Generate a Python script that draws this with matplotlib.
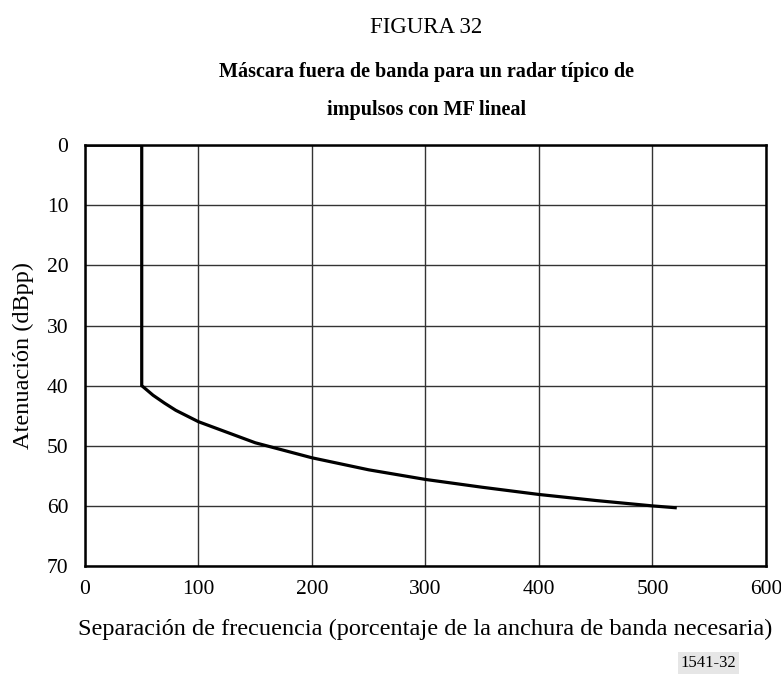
import matplotlib
matplotlib.use("Agg")
import matplotlib.pyplot as plt

# Out-of-band mask for a typical pulsed radar with linear FM
sep_pct = [0, 50, 50, 60, 70, 80, 100, 150, 200, 250, 300, 350, 400, 450, 500, 520]
atten_db = [0, 0, 40, 41.6, 42.9, 44.1, 46.0, 49.5, 52.0, 54.0, 55.6, 56.9, 58.1, 59.1, 60.0, 60.3]

x_ticks = [0, 100, 200, 300, 400, 500, 600]
y_ticks = [0, 10, 20, 30, 40, 50, 60, 70]

plt.rcParams["font.family"] = ["Liberation Serif", "DejaVu Serif"]

fig = plt.figure(figsize=(7.81, 6.80), dpi=100)
ax = fig.add_axes([0.1088, 0.1676, 0.872, 0.619])

ax.plot(sep_pct, atten_db, color="black", linewidth=2.3, solid_joinstyle="miter", zorder=3)

ax.set_xlim(0, 600)
ax.set_ylim(70, 0)
ax.set_xticks(x_ticks)
ax.set_yticks(y_ticks)
ax.tick_params(length=0, labelsize=15.5)
ax.tick_params(axis="x", pad=10)
ax.tick_params(axis="y", pad=12)
ax.grid(True, color="#333333", linewidth=1.0)
for s in ax.spines.values():
    s.set_linewidth(1.8)

ax.set_xlabel("Separación de frecuencia (porcentaje de la anchura de banda necesaria)",
              fontsize=17.5, labelpad=14)
ax.set_ylabel("Atenuación (dBpp)", fontsize=17.5, labelpad=9)

fig.text(0.546, 0.960, "FIGURA 32", ha="center", va="center", fontsize=16.5)
fig.text(0.546, 0.894, "Máscara fuera de banda para un radar típico de",
         ha="center", va="center", fontsize=14.5, fontweight="bold")
fig.text(0.546, 0.838, "impulsos con MF lineal",
         ha="center", va="center", fontsize=14.5, fontweight="bold")
fig.text(0.943, 0.025, "1541-32", ha="right", va="center", fontsize=12,
         bbox=dict(facecolor="#e6e6e6", edgecolor="none", pad=2))

fig.savefig("out.png", dpi=100)
